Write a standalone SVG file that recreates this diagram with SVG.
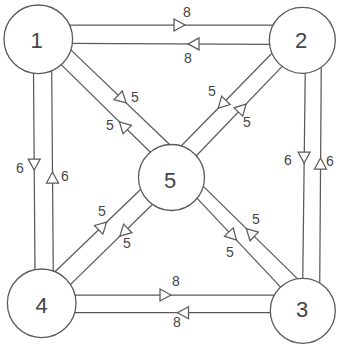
<svg xmlns="http://www.w3.org/2000/svg" xmlns:xlink="http://www.w3.org/1999/xlink" width="337" height="347" viewBox="0 0 337 347">
<style>
.edge{stroke:#5a5a5a;stroke-width:1.25;fill:none}
.node circle{fill:#fff;stroke:#5a5a5a;stroke-width:1.3}
.node text{font-family:"Liberation Sans",Arial,sans-serif;font-size:22px;fill:#444;text-anchor:middle}
.lbl{font-family:"Liberation Sans",Arial,sans-serif;font-size:14px;fill:#444;text-anchor:middle}
.arrow{fill:#fff;stroke:#5a5a5a;stroke-width:1.25;stroke-linejoin:miter}
</style>
<defs>
<polygon id="arr" class="arrow" points="0,0 -11,-6 -11,6"/>
</defs>
<rect width="337" height="347" fill="#fff"/>
<g id="connectors">
<line class="edge" x1="65" y1="25" x2="275" y2="25"/>
<line class="edge" x1="65" y1="43.3" x2="275" y2="44.3"/>
<line class="edge" x1="70" y1="295" x2="280" y2="295"/>
<line class="edge" x1="70" y1="312.7" x2="280" y2="312.7"/>
<line class="edge" x1="33.5" y1="70" x2="35" y2="275"/>
<line class="edge" x1="51.7" y1="70" x2="53.3" y2="275"/>
<line class="edge" x1="305.3" y1="68" x2="302.7" y2="284"/>
<line class="edge" x1="321.3" y1="62" x2="319.7" y2="288"/>
<line class="edge" x1="69.8" y1="48.9" x2="170.9" y2="145.8"/>
<line class="edge" x1="60.4" y1="63.9" x2="150.9" y2="152.8"/>
<line class="edge" x1="271.5" y1="53.8" x2="180.9" y2="146.2"/>
<line class="edge" x1="283.1" y1="65.4" x2="195.9" y2="156.2"/>
<line class="edge" x1="52.1" y1="274.5" x2="142.9" y2="187.2"/>
<line class="edge" x1="68.8" y1="286.1" x2="154.6" y2="202.2"/>
<line class="edge" x1="200.8" y1="183.9" x2="299.9" y2="281.1"/>
<line class="edge" x1="196" y1="197.1" x2="283" y2="289.6"/>
<use href="#arr" transform="translate(185,25)"/>
<use href="#arr" transform="translate(188,43.9) rotate(180)"/>
<use href="#arr" transform="translate(171,295)"/>
<use href="#arr" transform="translate(177.5,312.7) rotate(180)"/>
<use href="#arr" transform="translate(34.2,170) rotate(90)"/>
<use href="#arr" transform="translate(52.5,172) rotate(-90)"/>
<use href="#arr" transform="translate(304.1,163) rotate(90)"/>
<use href="#arr" transform="translate(320.5,158) rotate(-90)"/>
<use href="#arr" transform="translate(126.1,102.9) rotate(43.8)"/>
<use href="#arr" transform="translate(119.4,121.9) rotate(224.5)"/>
<use href="#arr" transform="translate(218.2,108.2) rotate(134.5)"/>
<use href="#arr" transform="translate(246,104.1) rotate(-46.2)"/>
<use href="#arr" transform="translate(106.6,222.2) rotate(-43.9)"/>
<use href="#arr" transform="translate(119.9,236.1) rotate(135.6)"/>
<use href="#arr" transform="translate(246.4,228.7) rotate(224.5)"/>
<use href="#arr" transform="translate(236.4,240) rotate(46.7)"/>
<text class="lbl" x="187" y="17">8</text>
<text class="lbl" x="188" y="62.5">8</text>
<text class="lbl" x="176" y="286">8</text>
<text class="lbl" x="177" y="327">8</text>
<text class="lbl" x="20" y="173">6</text>
<text class="lbl" x="65" y="181">6</text>
<text class="lbl" x="288" y="165">6</text>
<text class="lbl" x="330" y="166">6</text>
<text class="lbl" x="135" y="102">5</text>
<text class="lbl" x="110" y="130">5</text>
<text class="lbl" x="212" y="96">5</text>
<text class="lbl" x="247" y="127">5</text>
<text class="lbl" x="102" y="216">5</text>
<text class="lbl" x="127" y="248">5</text>
<text class="lbl" x="256" y="224">5</text>
<text class="lbl" x="230" y="257">5</text>
</g>
<g id="node1" class="node"><circle cx="38.3" cy="39.3" r="34.3"/><text x="36.5" y="47.5">1</text></g>
<g id="node2" class="node"><circle cx="302.3" cy="40.3" r="33"/><text x="301" y="47.5">2</text></g>
<g id="node3" class="node"><circle cx="302.8" cy="310.8" r="32.5"/><text x="302" y="316.5">3</text></g>
<g id="node4" class="node"><circle cx="41.7" cy="303.3" r="34.3"/><text x="41.5" y="312.5">4</text></g>
<g id="node5" class="node"><circle cx="171.5" cy="177.5" r="33"/><text x="170" y="187.5">5</text></g>
</svg>
